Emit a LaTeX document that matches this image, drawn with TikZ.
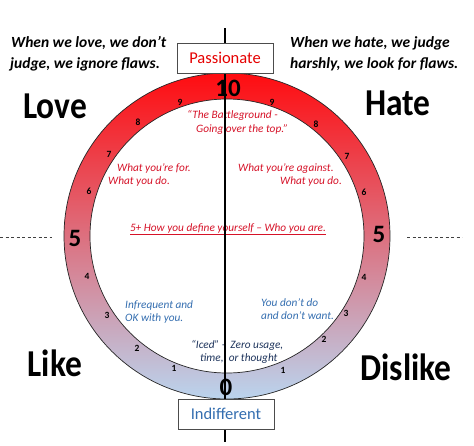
\documentclass[tikz,border=0pt]{standalone}
\usepackage{fontspec}
\setmainfont{Carlito}
\newfontfamily\bigfont[FakeStretch=0.88]{Carlito}
\definecolor{ringtop}{RGB}{255,12,16}
\definecolor{ringmid}{RGB}{226,84,104}
\definecolor{ringbot}{RGB}{186,212,238}
\definecolor{txtred}{RGB}{214,18,40}
\definecolor{txtblue}{RGB}{52,110,176}
\definecolor{txtnavy}{RGB}{30,52,92}
\definecolor{boxred}{RGB}{230,0,0}
\tikzset{
  bigword/.style={anchor=base, inner sep=0pt, font=\bigfont\bfseries\fontsize{38}{40}\selectfont},
  quote/.style={anchor=base west, inner sep=0pt, font=\bfseries\itshape\fontsize{15.5}{21}\selectfont},
  bignum/.style={inner sep=0pt, font=\bfseries\fontsize{25}{25}\selectfont},
  smallnum/.style={inner sep=0pt, font=\bfseries\fontsize{9.5}{9.5}\selectfont},
  note/.style={anchor=base west, inner sep=0pt, font=\itshape\fontsize{11.3}{13.5}\selectfont},
  labelbox/.style={draw=black!70, line width=0.7pt, fill=white, minimum width=96pt, minimum height=30pt, inner sep=0pt, font=\fontsize{16.5}{18}\selectfont},
  dashline/.style={dashed, dash pattern=on 3pt off 2.5pt, draw=black!75, line width=0.6pt}
}
\begin{document}
\begin{tikzpicture}[x=1pt,y=-1pt]
\useasboundingbox[fill=white] (0,0) rectangle (474,445);
\coordinate (c) at (227,236);
% ring
\shadedraw[even odd rule, draw=black!85, line width=0.7pt,
  top color=ringtop, middle color=ringmid, bottom color=ringbot]
  (c) circle[radius=163] (c) circle[radius=137];
% dashed side lines
\coordinate (dl1) at (0,237);
\coordinate (dl2) at (52,237);
\coordinate (dr1) at (407,237);
\coordinate (dr2) at (462,237);
\draw[dashline] (dl1) -- (dl2);
\draw[dashline] (dr1) -- (dr2);
% top quotes
\node[quote] (ql1) at (11,47) {When we love, we don’t};
\node[quote] (ql2) at (10,68) {judge, we ignore flaws.};
\node[quote] (qr1) at (290,47) {When we hate, we judge};
\node[quote] (qr2) at (290,68) {harshly, we look for flaws.};
% big words
\node[bigword] (love) at (55,118) {Love};
\node[bigword] (hate) at (398,115) {Hate};
\node[bigword] (like) at (55,376) {Like};
\node[bigword] (dislike) at (406,380) {Dislike};
% ring numbers
\node[bignum] (n10) at (228,88) {10};
\node[bignum] (n5l) at (75,238) {5};
\node[bignum] (n5r) at (379,234) {5};
\node[bignum] (n0) at (226,387) {0};
\node[smallnum] (l9) at (180,102) {9};
\node[smallnum] (l8) at (138,122) {8};
\node[smallnum] (l7) at (109,154) {7};
\node[smallnum] (l6) at (89,191) {6};
\node[smallnum] (l4) at (87,276) {4};
\node[smallnum] (l3) at (107,315) {3};
\node[smallnum] (l2) at (137,348) {2};
\node[smallnum] (l1) at (174,368) {1};
\node[smallnum] (r9) at (272,102) {9};
\node[smallnum] (r8) at (316,124) {8};
\node[smallnum] (r7) at (347,156) {7};
\node[smallnum] (r6) at (364,192) {6};
\node[smallnum] (r4) at (364,277) {4};
\node[smallnum] (r3) at (346,313) {3};
\node[smallnum] (r2) at (324,339) {2};
\node[smallnum] (r1) at (283,370) {1};
% inner notes
\node[note, text=txtred] (bg1) at (187,118) {“The Battleground -};
\node[note, text=txtred] (bg2) at (196,132) {Going over the top.”};
\node[note, text=txtred] (for1) at (117,171) {What you’re for.};
\node[note, text=txtred] (for2) at (108,184) {What you do.};
\node[note, text=txtred] (ag1) at (238,171) {What you’re against.};
\node[note, text=txtred] (ag2) at (280,184) {What you do.};
\node[note, anchor=base, text=txtred] (def) at (228,231) {\underline{5+ How you define yourself – Who you are.}};
\node[note, text=txtblue] (inf1) at (125,308) {Infrequent and};
\node[note, text=txtblue] (inf2) at (125,321) {OK with you.};
\node[note, text=txtblue] (dd1) at (261,306) {You don’t do};
\node[note, text=txtblue] (dd2) at (261,319) {and don’t want.};
\node[note, text=txtnavy] (ice1) at (191,348) {“Iced” -\ \ Zero usage,};
\node[note, text=txtnavy] (ice2) at (200,361) {time,\ \ or thought};
% central axis
\coordinate (axtop) at (225,28);
\coordinate (axbot) at (225,442);
\draw[black, line width=1.7pt] (axtop) -- (axbot);
% boxes
\node[labelbox, text=boxred] (pass) at (225,58) {Passionate};
\node[labelbox, text=txtblue] (indiff) at (226,414) {Indifferent};
\end{tikzpicture}
\end{document}
